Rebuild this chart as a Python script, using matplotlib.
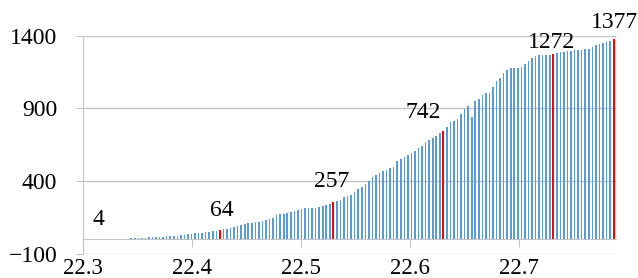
import numpy as np
import matplotlib.pyplot as plt

# bar heights, left to right
counts = [
    4, 3, 3, 4, 4, 4, 5, 5, 5, 6, 7,
    9, 10, 11, 12, 14, 15, 17, 18, 20, 21, 23, 25, 27, 29, 32, 35,
    38, 41, 44, 47, 50, 54, 58, 61, 64,
    70, 75, 79, 86, 93, 100, 107, 112, 116, 121, 123, 127, 132, 139, 146,
    169, 173, 178, 180, 189, 194, 203, 208,
    214, 216, 219, 219, 225, 232, 239, 244, 257,
    265, 269, 292, 297, 306, 326, 349, 359, 379, 404, 432, 443, 455, 469,
    478, 489, 500, 542, 551, 565, 581, 597,
    608, 625, 642, 668, 680, 697, 712, 728, 742,
    775, 804, 815, 826, 861, 898, 918, 838, 954, 967, 990, 1007, 1009,
    1045, 1091, 1108, 1144, 1162, 1181, 1181, 1181, 1183, 1206, 1223,
    1246, 1258, 1268, 1268, 1268, 1268, 1272,
    1284, 1287, 1289, 1292, 1296, 1300, 1302, 1305, 1307, 1310, 1322,
    1336, 1344, 1350, 1356, 1362, 1377,
]
x_first, x_last = 22.3114, 22.7870
highlight = [0, 35, 67, 98, 129, 146]
# label offsets in pixels (dx, dy) from the top of each red bar
label_offsets = [(2.6, 14), (2.3, 14.5), (-1.7, 14.8), (-20.2, 13.2),
                 (-1.7, 6.1), (0.8, 10.9)]
x_ticks = [22.3, 22.4, 22.5, 22.6, 22.7]
y_ticks = [-100, 400, 900, 1400]

plt.rcParams['font.family'] = 'Liberation Serif'
gray = '#C4C4C4'

fig = plt.figure(figsize=(6.38, 2.78), dpi=100)
ax = fig.add_axes([0.1306, 0.0863, 0.8344, 0.7853])

x = np.linspace(x_first, x_last, len(counts))
step = x[1] - x[0]
blue_idx = [i for i in range(len(counts)) if i not in highlight]
ax.bar(x[blue_idx], [counts[i] for i in blue_idx], width=step * 0.45,
       color='#5B9BD5', linewidth=0, zorder=3)
ax.bar(x[highlight], [counts[i] for i in highlight], width=step * 0.6,
       color='#FF0000', linewidth=0, zorder=3)

for i, (dx, dy) in zip(highlight, label_offsets):
    ax.annotate(str(counts[i]), (x[i], counts[i]), xytext=(dx, dy),
                textcoords='offset pixels', ha='center', va='baseline',
                fontsize=17, zorder=4)

ax.set_xlim(22.3, 22.7889)
ax.set_ylim(-100, 1400)
ax.set_xticks(x_ticks)
ax.set_xticklabels([f'{t:.1f}' for t in x_ticks])
ax.set_yticks(y_ticks)
ax.yaxis.grid(True, color=gray, lw=1, zorder=0)

for side in ['top', 'right']:
    ax.spines[side].set_visible(False)
ax.spines['left'].set_color(gray)
ax.spines['bottom'].set_color(gray)
ax.spines['bottom'].set_position(('data', 0))

ax.tick_params(axis='x', length=5.4, color=gray, pad=7.6, labelsize=16.5)
ax.tick_params(axis='y', length=5.0, color=gray, pad=13.7, labelsize=17)

fig.savefig('out.png', dpi=100)
